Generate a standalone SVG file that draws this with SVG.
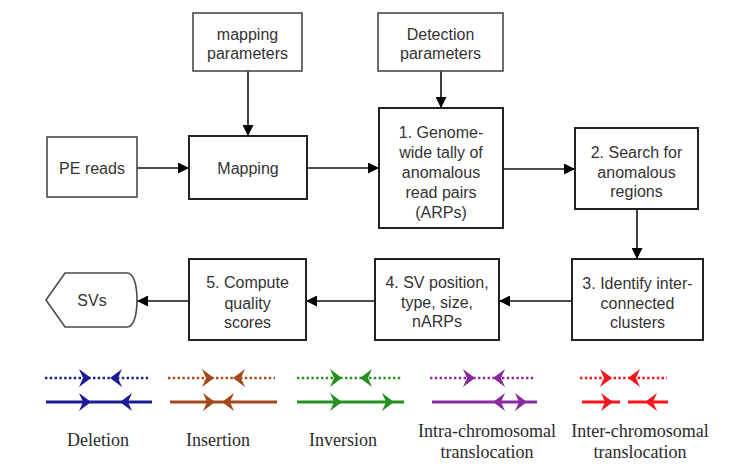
<svg xmlns="http://www.w3.org/2000/svg" width="734" height="472" viewBox="0 0 734 472">
<defs>
<style>
.in{fill:#fff;stroke:#4a4a4a;stroke-width:1.6}
.pr{fill:#fff;stroke:#222;stroke-width:2}
.bt{font-family:"Liberation Sans",Arial,sans-serif;font-size:16px;fill:#333;text-anchor:middle;dominant-baseline:central}
.lt{font-family:"Liberation Serif","Times New Roman",serif;font-size:18px;fill:#2a2a2a;text-anchor:middle}
.cn{stroke:#111;stroke-width:1.6;fill:none;marker-end:url(#ah)}
.dot{stroke-width:2.6;stroke-dasharray:2.4 2.4;fill:none}
.sol{stroke-width:3;fill:none}
</style>
<marker id="ah" viewBox="0 0 10 10" refX="10" refY="5" markerWidth="11" markerHeight="11" markerUnits="userSpaceOnUse" orient="auto">
<path d="M0,0 L10,5 L0,10 Z" fill="#000"/>
</marker>
<path id="hr" d="M0,0 L-12,-9 L-8,0 L-12,9 Z"/>
<path id="hl" d="M0,0 L12,-9 L8,0 L12,9 Z"/>
</defs>

<g id="connectors">
<line class="cn" x1="137" y1="168" x2="189" y2="168"/>
<line class="cn" x1="248" y1="71" x2="248" y2="136"/>
<line class="cn" x1="307" y1="168" x2="379" y2="168"/>
<line class="cn" x1="441" y1="71" x2="441" y2="108"/>
<line class="cn" x1="503" y1="169" x2="575" y2="169"/>
<line class="cn" x1="637" y1="209" x2="637" y2="259"/>
<line class="cn" x1="572" y1="301" x2="499" y2="301"/>
<line class="cn" x1="375" y1="301" x2="306" y2="301"/>
<line class="cn" x1="189" y1="301" x2="137" y2="301"/>
</g>

<g id="pe-reads"><rect class="in" x="47" y="137" width="90" height="60"/><text class="bt" x="92" y="168">PE reads</text></g>
<g id="mapping-parameters"><rect class="in" x="193" y="13" width="109" height="58"/><text class="bt" x="247.5" y="34">mapping</text><text class="bt" x="247.5" y="53">parameters</text></g>
<g id="mapping"><rect class="pr" x="189" y="136" width="118" height="63"/><text class="bt" x="248" y="168">Mapping</text></g>
<g id="detection-parameters"><rect class="in" x="378" y="13" width="125" height="58"/><text class="bt" x="440.5" y="34">Detection</text><text class="bt" x="440.5" y="53">parameters</text></g>
<g id="step1"><rect class="pr" x="379" y="108" width="124" height="120"/>
<text class="bt" x="441" y="132">1. Genome-</text><text class="bt" x="441" y="152">wide tally of</text><text class="bt" x="441" y="172">anomalous</text><text class="bt" x="441" y="192">read pairs</text><text class="bt" x="441" y="212">(ARPs)</text></g>
<g id="step2"><rect class="pr" x="575" y="128" width="123" height="81"/>
<text class="bt" x="636.5" y="152">2. Search for</text><text class="bt" x="636.5" y="172">anomalous</text><text class="bt" x="636.5" y="191">regions</text></g>
<g id="step3"><rect class="pr" x="572" y="259" width="131" height="81"/>
<text class="bt" x="637.5" y="283">3. Identify inter-</text><text class="bt" x="637.5" y="303">connected</text><text class="bt" x="637.5" y="322">clusters</text></g>
<g id="step4"><rect class="pr" x="375" y="259" width="124" height="81"/>
<text class="bt" x="437" y="282">4. SV position,</text><text class="bt" x="437" y="302">type, size,</text><text class="bt" x="437" y="321">nARPs</text></g>
<g id="step5"><rect class="pr" x="189" y="259" width="117" height="81"/>
<text class="bt" x="247.5" y="282">5. Compute</text><text class="bt" x="247.5" y="303">quality</text><text class="bt" x="247.5" y="322">scores</text></g>
<g id="svs"><path class="in" d="M65,273 H127 C134,273 137,286 137,300 C137,314 134,327 127,327 H65 L46,300 Z"/><text class="bt" x="92" y="300">SVs</text></g>

<g id="legend-deletion" fill="#1c1c96" stroke="#1c1c96">
<line class="dot" x1="45" y1="378" x2="148" y2="378"/>
<line class="sol" x1="46" y1="402" x2="152" y2="402"/>
<use href="#hr" x="91" y="378" stroke="none"/><use href="#hl" x="110" y="378" stroke="none"/>
<use href="#hr" x="91" y="402" stroke="none"/><use href="#hl" x="120" y="402" stroke="none"/>
<text class="lt" x="98" y="446" stroke="none">Deletion</text>
</g>
<g id="legend-insertion" fill="#a5481a" stroke="#a5481a">
<line class="dot" x1="168" y1="378" x2="275" y2="378"/>
<line class="sol" x1="170" y1="402" x2="277" y2="402"/>
<use href="#hr" x="214" y="378" stroke="none"/><use href="#hl" x="233" y="378" stroke="none"/>
<use href="#hr" x="215" y="402" stroke="none"/><use href="#hl" x="222" y="402" stroke="none"/>
<text class="lt" x="218" y="446" stroke="none">Insertion</text>
</g>
<g id="legend-inversion" fill="#23901f" stroke="#23901f">
<line class="dot" x1="297" y1="378" x2="402" y2="378"/>
<line class="sol" x1="297" y1="402" x2="404" y2="402"/>
<use href="#hr" x="342" y="378" stroke="none"/><use href="#hl" x="360" y="378" stroke="none"/>
<use href="#hr" x="342" y="402" stroke="none"/><use href="#hr" x="394" y="402" stroke="none"/>
<text class="lt" x="343" y="446" stroke="none">Inversion</text>
</g>
<g id="legend-intra" fill="#8b2aa0" stroke="#8b2aa0">
<line class="dot" x1="430" y1="378" x2="535" y2="378"/>
<line class="sol" x1="432" y1="402" x2="537" y2="402"/>
<use href="#hr" x="475" y="378" stroke="none"/><use href="#hl" x="493" y="378" stroke="none"/>
<use href="#hl" x="493" y="402" stroke="none"/><use href="#hr" x="527" y="402" stroke="none"/>
<text class="lt" x="487" y="437" stroke="none">Intra-chromosomal</text>
<text class="lt" x="487" y="458" stroke="none">translocation</text>
</g>
<g id="legend-inter" fill="#f5161b" stroke="#f5161b">
<line class="dot" x1="580" y1="378" x2="667" y2="378"/>
<line class="sol" x1="582" y1="402" x2="620" y2="402"/>
<line class="sol" x1="628" y1="402" x2="668" y2="402"/>
<use href="#hr" x="612" y="378" stroke="none"/><use href="#hl" x="628" y="378" stroke="none"/>
<use href="#hr" x="613" y="402" stroke="none"/><use href="#hl" x="645" y="402" stroke="none"/>
<text class="lt" x="640" y="437" stroke="none">Inter-chromosomal</text>
<text class="lt" x="640" y="458" stroke="none">translocation</text>
</g>
</svg>
